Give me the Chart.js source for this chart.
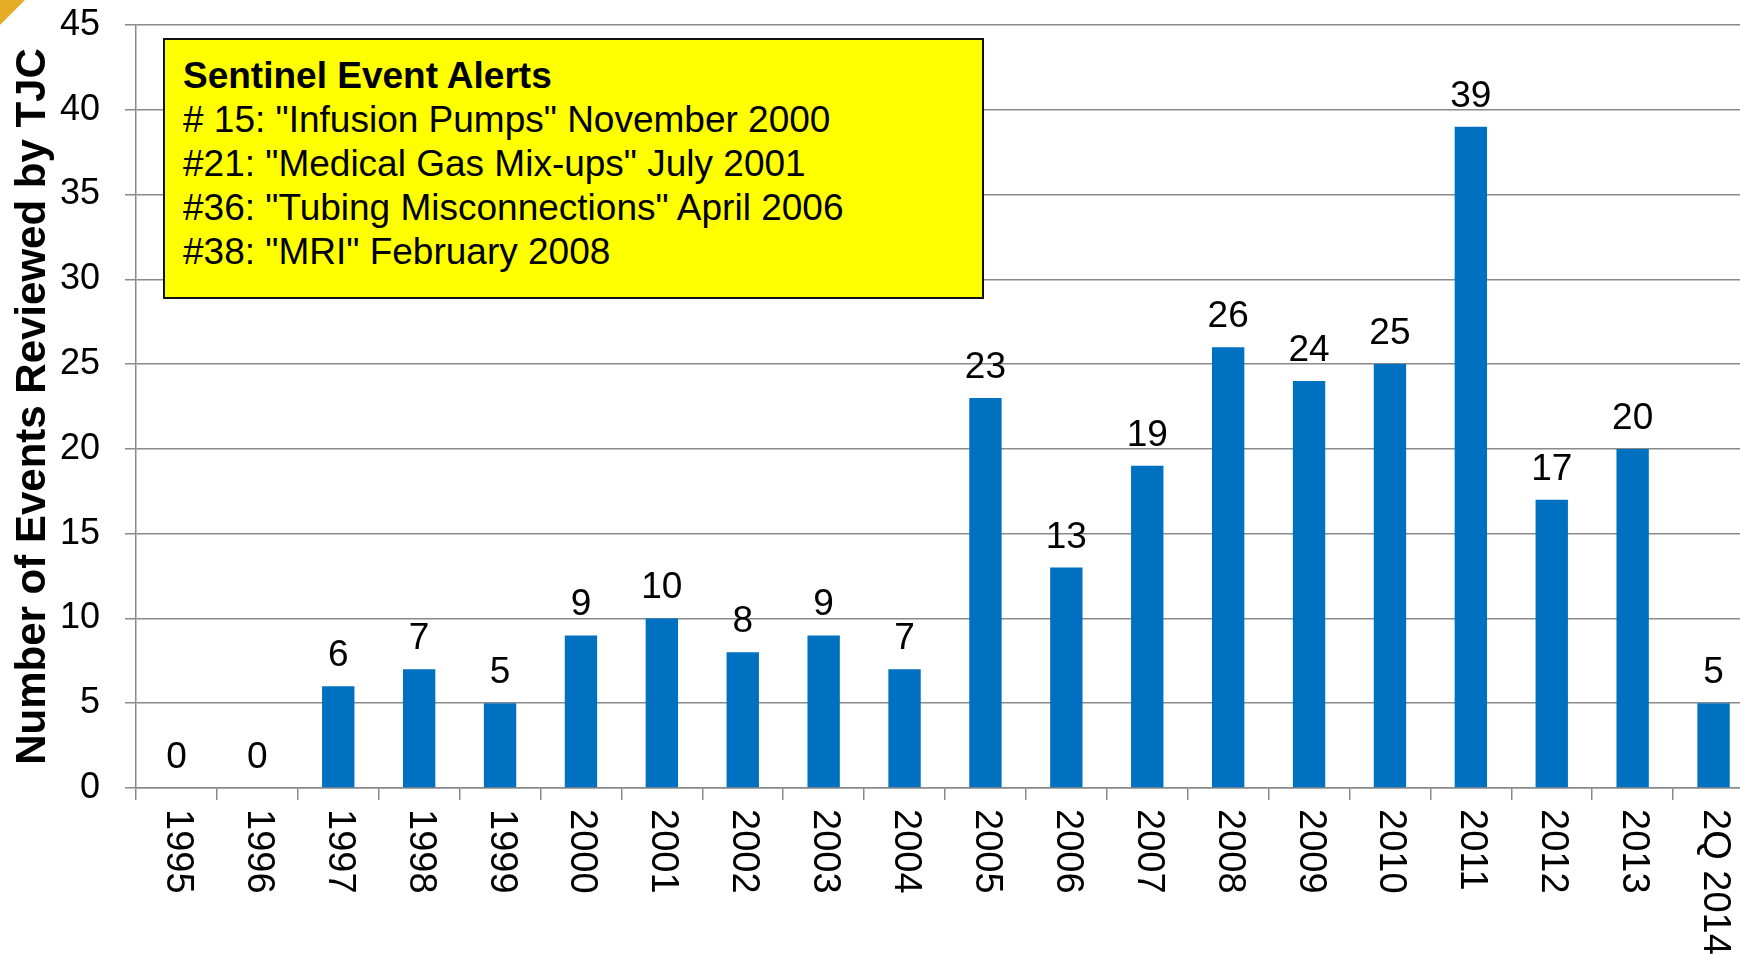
<!DOCTYPE html>
<html>
<head>
<meta charset="utf-8">
<script src="https://cdn.jsdelivr.net/npm/chart.js@4.4.1/dist/chart.umd.min.js"></script>
<style>
  html, body { margin: 0; padding: 0; background: #fff; overflow: hidden; width: 1740px; height: 954px; }
  #wrap { position: absolute; left: 0; top: 0; width: 1800px; height: 954px; }
  #corner { position: absolute; left: 0; top: 0; width: 0; height: 0;
    border-top: 25px solid #E6AC26; border-right: 25px solid transparent; z-index: 3; }
  #note { position: absolute; left: 163px; top: 38px; width: 817px; height: 257px;
    background: #FFFF00; border: 2px solid #111; box-sizing: content-box; z-index: 2;
    font-family: 'Liberation Sans', Arial, sans-serif; color: #000; }
  #note div { position: absolute; left: 18px; white-space: nowrap; font-size: 37px; line-height: 37px; }
  #note .t { font-weight: bold; font-size: 37px; }
</style>
</head>
<body>
<div id="wrap"><canvas id="c"></canvas></div>
<div id="corner"></div>
<div id="note"></div>
<script>
const categories = ['1995','1996','1997','1998','1999','2000','2001','2002','2003','2004','2005','2006','2007','2008','2009','2010','2011','2012','2013','2Q 2014'];
const events = [0,0,6,7,5,9,10,8,9,7,23,13,19,26,24,25,39,17,20,5];
const yTicks = [0,5,10,15,20,25,30,35,40,45];
const axisTitle = 'Number of Events Reviewed by TJC';
const noteTitle = 'Sentinel Event Alerts';
const noteLines = ['# 15: "Infusion Pumps" November 2000', '#21: "Medical Gas Mix-ups" July 2001', '#36: "Tubing Misconnections" April 2006', '#38: "MRI" February 2008'];

// annotation box text
const note = document.getElementById('note');
const baselines = [47, 91, 135, 179, 223];
[noteTitle].concat(noteLines).forEach((s, i) => {
  const d = document.createElement('div');
  d.textContent = s;
  if (i === 0) d.className = 't';
  d.style.top = (baselines[i] - 30) + 'px';
  note.appendChild(d);
});

const FONT = "'Liberation Sans', Arial, sans-serif";

const valueLabels = {
  id: 'valueLabels',
  afterDatasetsDraw(chart) {
    const ctx = chart.ctx;
    const meta = chart.getDatasetMeta(0);
    ctx.save();
    ctx.font = '37px ' + FONT;
    ctx.fillStyle = '#000';
    ctx.textAlign = 'center';
    ctx.textBaseline = 'alphabetic';
    meta.data.forEach((bar, i) => {
      ctx.fillText(String(events[i]), bar.x, bar.y - 20);
    });
    ctx.restore();
  }
};

const xLabels = {
  id: 'xLabels',
  afterDraw(chart) {
    const ctx = chart.ctx;
    const xs = chart.scales.x;
    const y0 = chart.chartArea.bottom + 21;
    ctx.save();
    ctx.font = '38px ' + FONT;
    ctx.fillStyle = '#000';
    ctx.textAlign = 'left';
    ctx.textBaseline = 'middle';
    categories.forEach((c, i) => {
      const x = xs.getPixelForTick(i);
      ctx.save();
      ctx.translate(x + 1, y0);
      ctx.rotate(Math.PI / 2);
      ctx.fillText(c, 0, 0);
      ctx.restore();
    });
    ctx.restore();
  }
};

new Chart(document.getElementById('c'), {
  type: 'bar',
  data: {
    labels: categories,
    datasets: [{
      data: events,
      backgroundColor: '#0070C0',
      borderWidth: 0,
      barPercentage: 0.4,
      categoryPercentage: 1.0
    }]
  },
  options: {
    responsive: true,
    maintainAspectRatio: false,
    animation: false,
    layout: { padding: { left: 0, top: 25, right: 46, bottom: 0 } },
    plugins: { legend: { display: false }, tooltip: { enabled: false } },
    scales: {
      x: {
        grid: { display: true, drawOnChartArea: false, drawTicks: true, tickLength: 12, color: '#8a8a8a', lineWidth: 1.5, offset: true },
        border: { display: true, color: '#8a8a8a', width: 1.5 },
        ticks: { display: false },
        afterFit(scale) { scale.height = 166; scale.paddingLeft = 0; scale.paddingRight = 0; }
      },
      y: {
        min: 0, max: 45,
        afterBuildTicks(scale) { scale.ticks = yTicks.map(v => ({ value: v })); },
        grid: { color: '#8a8a8a', lineWidth: 1.5, tickLength: 11, drawTicks: true },
        border: { display: true, color: '#8a8a8a', width: 1.5 },
        ticks: { font: { family: FONT, size: 36 }, color: '#000', padding: 25 },
        title: { display: true, text: axisTitle, color: '#000', font: { family: FONT, size: 42, weight: 'bold' }, padding: { top: 8, bottom: 0 } },
        afterFit(scale) { scale.width = 136; scale.paddingTop = 0; scale.paddingBottom = 0; }
      }
    }
  },
  plugins: [valueLabels, xLabels]
});
</script>
</body>
</html>
